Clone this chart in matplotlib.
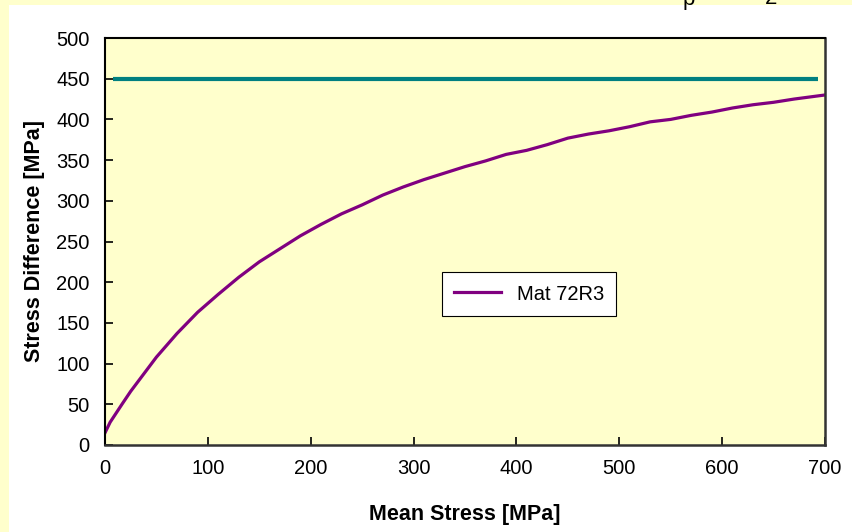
import matplotlib.pyplot as plt
from matplotlib.patches import Rectangle

plt.rcParams['font.family'] = ['Liberation Sans', 'DejaVu Sans']

# Data
mean_stress = [0, 5, 17, 25, 50, 70, 90, 110, 130, 150, 170, 190, 210, 230, 250,
               270, 290, 310, 330, 350, 370, 390, 410, 430, 450, 470, 490, 510,
               530, 550, 570, 590, 610, 630, 650, 670, 700]
stress_diff = [15, 28, 51, 66, 108, 137, 163, 185, 206, 225, 241, 257, 271, 284, 295,
               307, 317, 326, 334, 342, 349, 357, 362, 369, 377, 382, 386, 391,
               397, 400, 405, 409, 414, 418, 421, 425, 430]
limit_x = [8, 693]
limit_y = [450, 450]

fig = plt.figure(figsize=(8.52, 5.32), dpi=100)
fig.patch.set_facecolor('#FFFFCC')
# white slide panel behind the chart
fig.patches.append(Rectangle((9 / 852, 0), 1, 1 - 5 / 532, transform=fig.transFigure,
                             facecolor='white', edgecolor='none', zorder=-5))

ax = fig.add_axes([105 / 852, 1 - 445 / 532, 720 / 852, 407 / 532])
ax.set_facecolor('#FFFFCC')

ax.plot(limit_x, limit_y, color='#008080', linewidth=3, solid_capstyle='butt')
ax.plot(mean_stress, stress_diff, color='#800080', linewidth=2.3, label='Mat 72R3')

ax.set_xlim(0, 700)
ax.set_ylim(0, 500)
ax.set_xticks(range(0, 701, 100))
ax.set_yticks(range(0, 501, 50))
ax.tick_params(direction='in', length=6, width=1.2, labelsize=14.5, pad=11)
ax.tick_params(axis='x', pad=10)

for side in ['left', 'top']:
    ax.spines[side].set_color('black')
    ax.spines[side].set_linewidth(1.5)
for side in ['right', 'bottom']:
    ax.spines[side].set_color('#333333')
    ax.spines[side].set_linewidth(1.8)

ax.set_xlabel('Mean Stress [MPa]', fontsize=15.5, fontweight='bold', labelpad=19)
ax.set_ylabel('Stress Difference [MPa]', fontsize=15.5, fontweight='bold', labelpad=8)

leg = ax.legend(loc='center', bbox_to_anchor=(0.589, 0.371), fontsize=14.5,
                fancybox=False, framealpha=1, edgecolor='black',
                handlelength=2.3, borderpad=0.6)
leg.get_frame().set_linewidth(0.8)

# clipped remnants of slide text at the top
fig.text(683 / 852, 1 - 5 / 532, 'p', fontsize=16, va='baseline', ha='left')
fig.text(765 / 852, 1 - 4 / 532, '2', fontsize=16, va='baseline', ha='left')

fig.savefig('out.png', dpi=100, facecolor=fig.get_facecolor())
